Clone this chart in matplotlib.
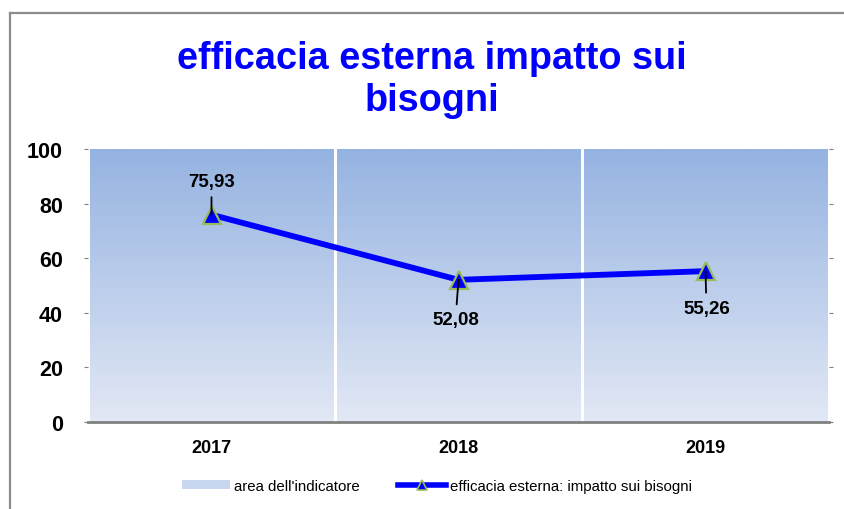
import numpy as np
import matplotlib
matplotlib.use('Agg')
import matplotlib.pyplot as plt
from matplotlib.colors import LinearSegmentedColormap
from matplotlib.lines import Line2D
from matplotlib.patches import Patch

plt.rcParams['font.family'] = ['Liberation Sans', 'DejaVu Sans']

years = ['2017', '2018', '2019']
area_vals = [100, 100, 100]
impact_vals = [75.93, 52.08, 55.26]
value_labels = ['75,93', '52,08', '55,26']
yticks = [0, 20, 40, 60, 80, 100]

W, H = 844, 510
fig = plt.figure(figsize=(W / 100, H / 100), dpi=100)
ax = fig.add_axes([88 / W, 1 - 423 / H, (829 - 88) / W, (423 - 150) / H])

# outer chart frame (only left/top visible in the crop)
frame_kw = dict(color='#8c8c8c', lw=1.6, transform=fig.transFigure)
fig.add_artist(Line2D([10 / W, 10 / W], [0, 1 - 14 / H], **frame_kw))
fig.add_artist(Line2D([10 / W, 1], [1 - 14 / H, 1 - 14 / H], **frame_kw))

x = np.arange(len(years))

# gradient filled "area" bars
cmap = LinearSegmentedColormap.from_list('area', ['#e2e8f5', '#95b3e1'])
grad = np.linspace(0, 1, 256).reshape(-1, 1)
bars = ax.bar(x, area_vals, width=0.986, color='none', zorder=1)
for b in bars:
    x0, y0, w, h = b.get_x(), b.get_y(), b.get_width(), b.get_height()
    im = ax.imshow(grad, extent=[x0, x0 + w, y0, y0 + h], aspect='auto',
                   cmap=cmap, origin='lower', zorder=1)
    im.set_clip_path(b)

ax.plot(x, impact_vals, color='#0000ff', lw=4.2, marker='^', ms=13,
        mfc='#0000ff', mec='#9bbb59', mew=1.6, zorder=3)

offsets = [(0, 33), (-3, -40), (1, -37)]
for xi, v, lab, off in zip(x, impact_vals, value_labels, offsets):
    ax.annotate(lab, (xi, v), xytext=off, textcoords='offset pixels',
                ha='center', va='center', fontsize=13.5, fontweight='bold',
                arrowprops=dict(arrowstyle='-', color='black', lw=1.3,
                                shrinkA=3, shrinkB=0), zorder=4)

ax.set_xlim(-0.5, 2.5)
ax.set_ylim(0, 100)
ax.set_xticks(x)
ax.set_xticklabels(years, fontsize=13, fontweight='bold')
ax.set_yticks(yticks)
ax.set_yticklabels([str(t) for t in yticks], fontsize=15.5, fontweight='bold')
ax.tick_params(axis='x', length=0, pad=12)
ax.tick_params(axis='y', length=3, color='#808080', pad=15, right=True)
for s in ['left', 'right', 'top']:
    ax.spines[s].set_visible(False)
ax.spines['bottom'].set_color('#808080')
ax.spines['bottom'].set_linewidth(2)

fig.text(432 / W, 1 - 80 / H, 'efficacia esterna impatto sui\nbisogni',
         ha='center', va='center', fontsize=27.3, fontweight='bold',
         color='#0000ff', linespacing=1.2)

handles = [Patch(facecolor='#c9d6ef', edgecolor='none'),
           Line2D([0], [0], color='#0000ff', lw=4, marker='^', ms=7,
                  mfc='#0000ff', mec='#9bbb59', mew=1.2)]
fig.legend(handles, ["area dell'indicatore", 'efficacia esterna: impatto sui bisogni'],
           loc='center', bbox_to_anchor=(437 / W, 1 - 487 / H), ncol=2,
           frameon=False, fontsize=10.8, handlelength=3.2, handleheight=0.5,
           handletextpad=0.3, columnspacing=2.5)

fig.savefig('out.png', dpi=100)
